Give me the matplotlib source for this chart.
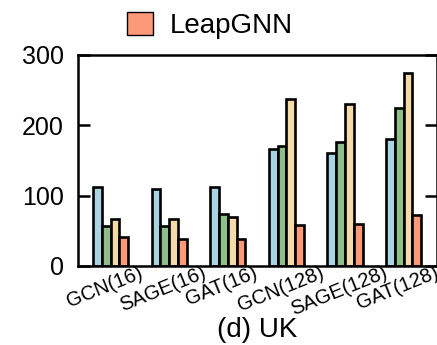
import matplotlib.pyplot as plt
import matplotlib.transforms as mtransforms
import numpy as np
from matplotlib.patches import Patch

plt.rcParams['font.family'] = ['Liberation Sans', 'DejaVu Sans']

# values
models = ['GCN(16)', 'SAGE(16)', 'GAT(16)', 'GCN(128)', 'SAGE(128)', 'GAT(128)']
sys_a = [113, 109, 113, 167, 160, 181]
sys_b = [57, 57, 74, 170, 176, 225]
sys_c = [67, 67, 69, 238, 231, 274]
leapgnn = [41, 38, 38, 58, 59, 72]

colors = ['#a9d4e4', '#8fbf88', '#f5dba8', '#fb9a78']

fig = plt.figure(figsize=(4.37, 3.45), dpi=100)
ax = fig.add_axes([0.1785, 0.229, 0.8215, 0.6116])

x = np.arange(len(models))
w = 0.15
series = [sys_a, sys_b, sys_c, leapgnn]
for i, vals in enumerate(series):
    ax.bar(x + (i - 1.5) * w, vals, width=w, color=colors[i],
           edgecolor='black', linewidth=1.9)

ax.set_xlim(-0.555, 5.57)
ax.set_ylim(0, 300)
ax.set_yticks([0, 100, 200, 300])
ax.tick_params(axis='y', direction='in', length=8.5, width=1.8,
               labelsize=18, right=True, pad=10)
ax.set_xticks(x)
ax.set_xticklabels(models, rotation=22, ha='center', fontsize=14.5)
ax.tick_params(axis='x', length=0, pad=-2)
# labels sit a little left of the group centres
shift = mtransforms.ScaledTranslation(-6 / 100, 0, fig.dpi_scale_trans)
for lab in ax.get_xticklabels():
    lab.set_transform(lab.get_transform() + shift)
for s in ax.spines.values():
    s.set_linewidth(1.8)

# panel caption below the tick labels
fig.text(257.5 / 437, 1 - 330 / 345, '(d) UK', fontsize=20,
         ha='center', va='center')

fig.legend(handles=[Patch(facecolor=colors[3], edgecolor='black', linewidth=1.0)],
           labels=['LeapGNN'], loc='center', bbox_to_anchor=(0.48, 0.925),
           frameon=False, fontsize=20, handlelength=0.95, handleheight=0.87,
           handletextpad=0.6, borderpad=0)

fig.savefig('out.png', dpi=100)
